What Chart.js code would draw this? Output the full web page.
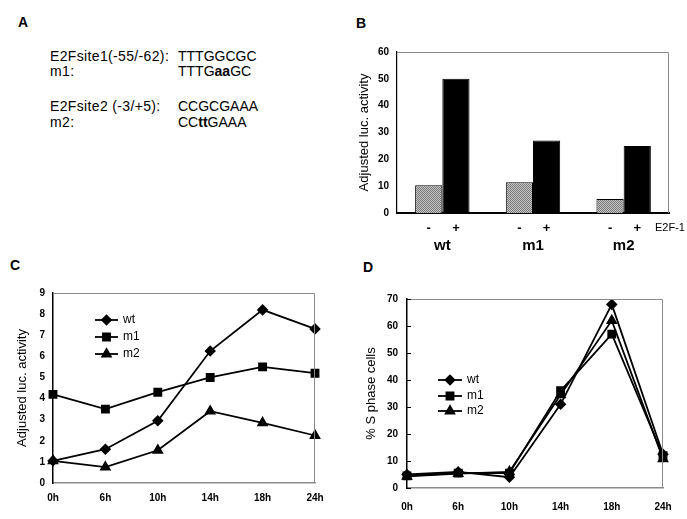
<!DOCTYPE html>
<html>
<head>
<meta charset="utf-8">
<script src="https://cdn.jsdelivr.net/npm/chart.js@4.4.1/dist/chart.umd.min.js"></script>
<style>
  body { margin: 0; background: #fff; font-family: "Liberation Sans", Arial, sans-serif; }
  #page { position: relative; width: 687px; height: 519px; overflow: hidden; }
  .panel { position: absolute; }
  .lbl { position: absolute; font-weight: bold; font-size: 14px; }
  .seq { position: absolute; font-size: 14px; line-height: 15px; white-space: nowrap; }
  .name { letter-spacing: 0.35px; }
</style>
</head>
<body>
<div id="page">
  <div class="lbl" style="left:18px;top:14px">A</div>
  <div class="seq name" style="left:50px;top:49px">E2Fsite1(-55/-62):</div>
  <div class="seq" style="left:178px;top:49px">TTTGGCGC</div>
  <div class="seq name" style="left:50px;top:64px">m1:</div>
  <div class="seq" style="left:178px;top:64px">TTTG<b>aa</b>GC</div>
  <div class="seq name" style="left:50px;top:99px">E2Fsite2 (-3/+5):</div>
  <div class="seq" style="left:178px;top:99px">CCGCGAAA</div>
  <div class="seq name" style="left:50px;top:115px">m2:</div>
  <div class="seq" style="left:178px;top:115px">CC<b>tt</b>GAAA</div>

  <div class="lbl" style="left:356px;top:15px">B</div>
  <div class="lbl" style="left:10px;top:257px">C</div>
  <div class="lbl" style="left:363px;top:259px">D</div>

  <div class="panel" style="left:340px;top:0;width:347px;height:260px"><canvas id="chartB"></canvas></div>
  <div class="panel" style="left:0;top:250px;width:345px;height:269px"><canvas id="chartC"></canvas></div>
  <div class="panel" style="left:340px;top:250px;width:347px;height:269px"><canvas id="chartD"></canvas></div>
</div>
<script>
// panel B
const constructs = ['wt', 'm1', 'm2'];
const minusE2F = [10.3, 11.5, 5.2];
const plusE2F = [50, 27, 25];
const signLabels = ['-', '+'];

// panels C and D
const hours = ['0h', '6h', '10h', '14h', '18h', '24h'];
const lucWt = [1.05, 1.6, 2.95, 6.25, 8.2, 7.3];
const lucM1 = [4.2, 3.5, 4.3, 5.0, 5.5, 5.2];
const lucM2 = [1.05, 0.75, 1.55, 3.4, 2.85, 2.25];
const sWt = [5, 6, 4, 31, 68, 12.5];
const sM1 = [4.5, 5.5, 5.5, 36, 57, 12];
const sM2 = [4.3, 5.3, 6, 34.5, 62, 10.8];

const tickFont = { family: '"Liberation Sans Narrow", "Liberation Sans", Arial', size: 10, weight: 'bold' };
const titleFont = { family: '"Liberation Sans", Arial', size: 13 };

// grey top/right edge of the plot box
const boxPlugin = {
  id: 'box',
  afterDraw(chart) {
    const { ctx, chartArea: a } = chart;
    ctx.save();
    ctx.strokeStyle = '#8a8a8a';
    ctx.lineWidth = 1;
    ctx.beginPath();
    ctx.moveTo(a.left, a.top + 0.5);
    ctx.lineTo(a.right - 0.5, a.top + 0.5);
    ctx.lineTo(a.right - 0.5, a.bottom);
    ctx.stroke();
    ctx.restore();
  }
};

// short tick marks pointing into the plot (panel D)
const innerTicks = {
  id: 'innerTicks',
  afterDraw(chart) {
    const { ctx, chartArea: a } = chart;
    const y = chart.scales.y;
    ctx.save();
    ctx.strokeStyle = '#000';
    ctx.lineWidth = 1;
    y.ticks.forEach(t => {
      const py = Math.round(y.getPixelForValue(t.value)) + 0.5;
      ctx.beginPath();
      ctx.moveTo(a.left, py);
      ctx.lineTo(a.left + 4, py);
      ctx.stroke();
    });
    ctx.restore();
  }
};

// - / + under each bar, plus the E2F-1 note
const signPlugin = {
  id: 'signs',
  afterDraw(chart) {
    const { ctx, chartArea: a } = chart;
    ctx.save();
    ctx.fillStyle = '#000';
    ctx.font = 'bold 13px "Liberation Sans", Arial';
    ctx.textAlign = 'center';
    ctx.textBaseline = 'middle';
    chart.data.datasets.forEach((ds, i) => {
      chart.getDatasetMeta(i).data.forEach(bar => {
        ctx.fillText(signLabels[i], bar.x, a.bottom + 15);
      });
    });
    ctx.font = '11px "Liberation Sans", Arial';
    ctx.textAlign = 'left';
    ctx.fillText('E2F-1', a.right - 14, a.bottom + 15);
    ctx.restore();
  }
};

// legend drawn inside the plot: line + marker + label
const lineLegend = {
  id: 'lineLegend',
  afterDraw(chart, args, opts) {
    const ctx = chart.ctx;
    ctx.save();
    ctx.font = '12px "Liberation Sans", Arial';
    ctx.textBaseline = 'middle';
    ctx.textAlign = 'left';
    chart.data.datasets.forEach((ds, i) => {
      const y = opts.rows[i];
      ctx.strokeStyle = '#000';
      ctx.lineWidth = 1.8;
      ctx.beginPath();
      ctx.moveTo(opts.x, y);
      ctx.lineTo(opts.x + opts.len, y);
      ctx.stroke();
      ctx.fillStyle = '#000';
      Chart.helpers.drawPoint(ctx, {
        pointStyle: ds.pointStyle, radius: ds.pointRadius, rotation: 0, borderWidth: 1
      }, opts.x + opts.len / 2, y);
      ctx.fill();
      ctx.fillStyle = '#000';
      ctx.fillText(ds.label, opts.x + opts.len + 5, y);
    });
    ctx.restore();
  }
};

function greyPattern() {
  const c = document.createElement('canvas');
  c.width = 2; c.height = 2;
  const g = c.getContext('2d');
  g.fillStyle = '#c4c4c4'; g.fillRect(0, 0, 2, 2);
  g.fillStyle = '#7a7a7a'; g.fillRect(0, 0, 1, 1); g.fillRect(1, 1, 1, 1);
  return g.createPattern(c, 'repeat');
}

new Chart(document.getElementById('chartB'), {
  type: 'bar',
  data: {
    labels: constructs,
    datasets: [
      { label: '-', data: minusE2F, backgroundColor: greyPattern(), borderColor: '#000', borderWidth: 1 },
      { label: '+', data: plusE2F, backgroundColor: '#000', borderColor: '#000', borderWidth: 1 }
    ]
  },
  options: {
    responsive: true,
    maintainAspectRatio: false,
    animation: false,
    layout: { padding: { left: 0, right: 18, top: 52, bottom: 0 } },
    plugins: { legend: { display: false }, tooltip: { enabled: false } },
    datasets: { bar: { categoryPercentage: 0.6, barPercentage: 1.0 } },
    scales: {
      x: {
        grid: { display: false, drawTicks: false },
        border: { color: '#000', width: 2 },
        ticks: { color: '#000', padding: 24, font: { family: '"Liberation Sans", Arial', size: 15, weight: 'bold' } },
        afterFit: s => { s.height = 47; }
      },
      y: {
        min: 0, max: 60,
        grid: { display: false, drawTicks: false },
        border: { color: '#000', width: 1.2 },
        ticks: { stepSize: 10, color: '#000', padding: 8, font: tickFont },
        title: { display: true, text: 'Adjusted luc. activity', color: '#000', font: titleFont, padding: { top: 17, bottom: 0 } },
        afterFit: s => { s.width = 57; }
      }
    }
  },
  plugins: [boxPlugin, signPlugin]
});

function lineSet(label, data, style, r) {
  return {
    label, data, pointStyle: style, pointRadius: r,
    borderColor: '#000', backgroundColor: '#000', pointBackgroundColor: '#000',
    pointBorderColor: '#000', borderWidth: 1.8, tension: 0
  };
}

function lineOptions(cfg) {
  return {
    responsive: true,
    maintainAspectRatio: false,
    animation: false,
    layout: { padding: { left: 0, right: cfg.right, top: cfg.top, bottom: 0 } },
    plugins: { legend: { display: false }, tooltip: { enabled: false }, lineLegend: cfg.legend },
    scales: {
      x: {
        offset: false,
        grid: { display: false, drawTicks: false },
        border: { color: '#8a8a8a', width: 1.5 },
        ticks: { color: '#000', padding: cfg.xPad, maxRotation: 0, font: tickFont },
        afterFit: s => { s.height = cfg.xHeight; }
      },
      y: {
        min: 0, max: cfg.max,
        grid: { display: false, drawTicks: false },
        border: { color: '#000', width: 1.5 },
        ticks: { stepSize: cfg.step, color: '#000', padding: cfg.yPad, font: tickFont },
        title: { display: true, text: cfg.title, color: '#000', font: titleFont, padding: { top: cfg.titlePad, bottom: 0 } },
        afterFit: s => { s.width = cfg.yWidth; }
      }
    }
  };
}

new Chart(document.getElementById('chartC'), {
  type: 'line',
  data: {
    labels: hours,
    datasets: [
      lineSet('wt', lucWt, 'rectRot', 4.5),
      lineSet('m1', lucM1, 'rect', 5),
      lineSet('m2', lucM2, 'triangle', 5)
    ]
  },
  options: lineOptions({
    right: 30, top: 43, xHeight: 36, xPad: 9, yWidth: 53, yPad: 8, max: 9, step: 1,
    title: 'Adjusted luc. activity', titlePad: 15,
    legend: { x: 95, len: 23, rows: [70, 87, 104] }
  }),
  plugins: [boxPlugin, lineLegend]
});

new Chart(document.getElementById('chartD'), {
  type: 'line',
  data: {
    labels: hours,
    datasets: [
      lineSet('wt', sWt, 'rectRot', 4.5),
      lineSet('m1', sM1, 'rect', 5),
      lineSet('m2', sM2, 'triangle', 5)
    ]
  },
  options: lineOptions({
    right: 24, top: 49, xHeight: 31, xPad: 13, yWidth: 67, yPad: 9, max: 70, step: 10,
    title: '% S phase cells', titlePad: 24,
    legend: { x: 98, len: 24, rows: [130, 146, 161] }
  }),
  plugins: [boxPlugin, innerTicks, lineLegend]
});
</script>
</body>
</html>
